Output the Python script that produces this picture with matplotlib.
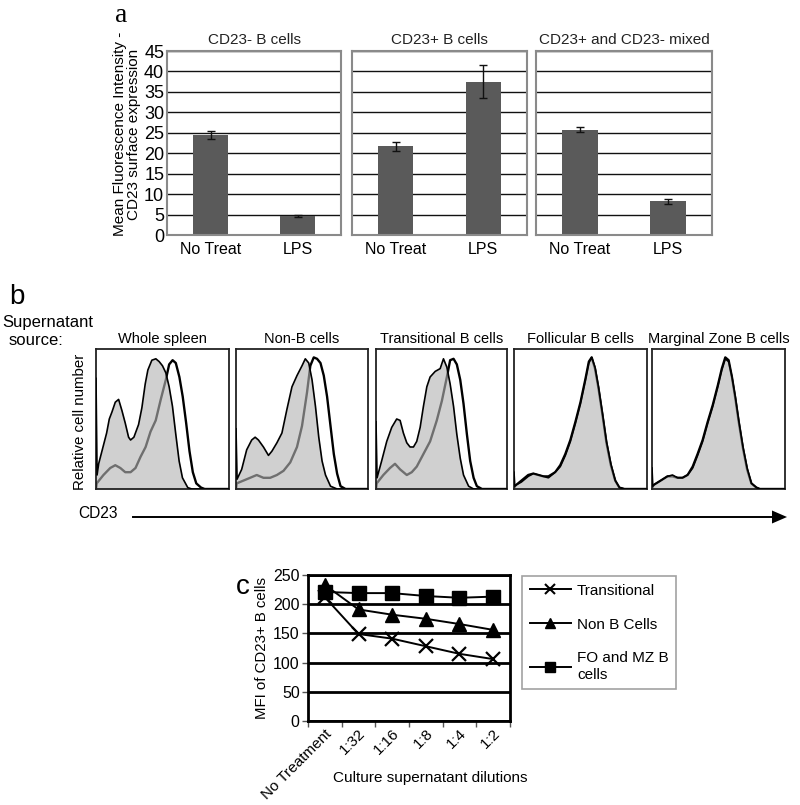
import numpy as np
import matplotlib
matplotlib.use('Agg')
import matplotlib.pyplot as plt
from matplotlib.lines import Line2D
from matplotlib.patches import Polygon

plt.rcParams['font.family'] = ['Liberation Sans', 'DejaVu Sans']

W, H = 800, 805
fig = plt.figure(figsize=(8, 8.05), dpi=100)


def rect(l, t, r, b):
    return [l / W, 1 - b / H, (r - l) / W, (b - t) / H]

# ---------------- panel a data ----------------
a_titles = ['CD23- B cells', 'CD23+ B cells', 'CD23+ and CD23- mixed']
a_cats = ['No Treat', 'LPS']
a_cd23neg = [24.5, 4.6]
a_cd23neg_err = [0.9, 0.3]
a_cd23pos = [21.7, 37.5]
a_cd23pos_err = [1.1, 4.0]
a_mixed = [25.7, 8.2]
a_mixed_err = [0.6, 0.5]
a_yticks = [0, 5, 10, 15, 20, 25, 30, 35, 40, 45]

# ---------------- panel b data (x: fraction of CD23 axis, y: fraction of max) ----------------
b_titles = ['Whole spleen', 'Non-B cells', 'Transitional B cells',
            'Follicular B cells', 'Marginal Zone B cells']

ws_fill_x = [0, 0.008, 0.02, 0.05, 0.08, 0.1, 0.12, 0.145, 0.17, 0.195, 0.22, 0.245, 0.26, 0.285,
             0.32, 0.345, 0.37, 0.39, 0.42, 0.45, 0.475, 0.5, 0.525, 0.55, 0.575, 0.6, 0.625, 0.65,
             0.69, 0.72, 1.0]
ws_fill_y = [0.79, 0.10, 0.18, 0.29, 0.40, 0.50, 0.55, 0.62, 0.64, 0.56, 0.47, 0.37, 0.35, 0.37,
             0.46, 0.58, 0.75, 0.85, 0.92, 0.93, 0.91, 0.88, 0.83, 0.73, 0.59, 0.39, 0.20, 0.08,
             0.01, 0.0, 0.0]
ws_open_x = [0, 0.005, 0.056, 0.107, 0.145, 0.183, 0.22, 0.26, 0.297, 0.335, 0.373, 0.41, 0.449,
             0.487, 0.525, 0.55, 0.576, 0.6, 0.627, 0.652, 0.678, 0.703, 0.728, 0.754, 0.79, 0.817, 1.0]
ws_open_y = [0.0, 0.04, 0.10, 0.15, 0.17, 0.15, 0.12, 0.12, 0.15, 0.23, 0.30, 0.41, 0.49, 0.64,
             0.78, 0.89, 0.92, 0.90, 0.80, 0.66, 0.47, 0.27, 0.12, 0.04, 0.01, 0.0, 0.0]

nb_fill_x = [0, 0.008, 0.043, 0.081, 0.119, 0.145, 0.17, 0.208, 0.246, 0.272, 0.31, 0.348, 0.386,
             0.424, 0.462, 0.5, 0.525, 0.551, 0.576, 0.602, 0.627, 0.652, 0.678, 0.716, 0.766, 1.0]
nb_fill_y = [0.43, 0.07, 0.14, 0.28, 0.35, 0.37, 0.35, 0.30, 0.24, 0.27, 0.33, 0.40, 0.57, 0.73,
             0.81, 0.88, 0.93, 0.90, 0.78, 0.59, 0.37, 0.20, 0.10, 0.02, 0.0, 0.0]
nb_open_x = [0, 0.005, 0.056, 0.107, 0.157, 0.208, 0.259, 0.31, 0.36, 0.411, 0.462, 0.5, 0.538,
             0.563, 0.589, 0.614, 0.64, 0.665, 0.69, 0.716, 0.741, 0.766, 0.792, 0.83, 1.0]
nb_open_y = [0.0, 0.04, 0.06, 0.08, 0.10, 0.08, 0.08, 0.10, 0.13, 0.19, 0.30, 0.45, 0.69, 0.88,
             0.94, 0.93, 0.90, 0.81, 0.66, 0.45, 0.25, 0.11, 0.02, 0.0, 0.0]

tr_fill_x = [0, 0.008, 0.043, 0.082, 0.12, 0.158, 0.184, 0.209, 0.235, 0.26, 0.286, 0.311, 0.337,
             0.362, 0.388, 0.413, 0.452, 0.49, 0.515, 0.541, 0.566, 0.592, 0.617, 0.643, 0.668,
             0.707, 0.745, 1.0]
tr_fill_y = [0.48, 0.08, 0.20, 0.34, 0.44, 0.50, 0.49, 0.40, 0.33, 0.30, 0.30, 0.34, 0.44, 0.59,
             0.73, 0.80, 0.84, 0.86, 0.93, 0.87, 0.75, 0.59, 0.39, 0.22, 0.10, 0.02, 0.0, 0.0]
tr_open_x = [0, 0.005, 0.056, 0.107, 0.145, 0.184, 0.235, 0.273, 0.311, 0.362, 0.413, 0.464, 0.503,
             0.541, 0.566, 0.592, 0.617, 0.643, 0.668, 0.694, 0.719, 0.745, 0.77, 0.809, 1.0]
tr_open_y = [0.0, 0.04, 0.10, 0.15, 0.18, 0.14, 0.10, 0.12, 0.16, 0.25, 0.34, 0.49, 0.63, 0.80,
             0.92, 0.93, 0.89, 0.78, 0.61, 0.39, 0.20, 0.08, 0.02, 0.0, 0.0]

fo_x = [0, 0.006, 0.018, 0.056, 0.107, 0.145, 0.183, 0.221, 0.259, 0.31, 0.348, 0.386, 0.424,
        0.462, 0.5, 0.538, 0.563, 0.584, 0.609, 0.635, 0.665, 0.695, 0.728, 0.761, 0.792, 0.83, 1.0]
fo_fill_y = [0.12, 0.02, 0.03, 0.05, 0.09, 0.11, 0.10, 0.09, 0.08, 0.12, 0.16, 0.24, 0.34, 0.47,
             0.61, 0.78, 0.90, 0.94, 0.87, 0.73, 0.54, 0.34, 0.18, 0.06, 0.01, 0.0, 0.0]
fo_open_y = [0.0, 0.02, 0.03, 0.06, 0.10, 0.11, 0.10, 0.09, 0.09, 0.12, 0.17, 0.25, 0.35, 0.48,
             0.62, 0.79, 0.91, 0.94, 0.86, 0.72, 0.53, 0.33, 0.17, 0.06, 0.01, 0.0, 0.0]

mz_x = [0, 0.006, 0.015, 0.066, 0.116, 0.154, 0.192, 0.23, 0.268, 0.306, 0.343, 0.381, 0.419,
        0.457, 0.495, 0.525, 0.551, 0.576, 0.601, 0.626, 0.652, 0.684, 0.715, 0.747, 0.785, 0.811, 1.0]
mz_fill_y = [0.15, 0.02, 0.03, 0.06, 0.09, 0.10, 0.08, 0.08, 0.10, 0.15, 0.24, 0.34, 0.47, 0.59,
             0.73, 0.85, 0.93, 0.91, 0.80, 0.66, 0.49, 0.30, 0.15, 0.04, 0.01, 0.0, 0.0]
mz_open_y = [0.0, 0.02, 0.03, 0.06, 0.09, 0.09, 0.08, 0.08, 0.10, 0.16, 0.25, 0.35, 0.48, 0.60,
             0.74, 0.86, 0.94, 0.92, 0.80, 0.65, 0.48, 0.29, 0.14, 0.04, 0.01, 0.0, 0.0]

# ---------------- panel c data ----------------
c_cats = ['No Treatment', '1:32', '1:16', '1:8', '1:4', '1:2']
c_transitional = [212, 149, 141, 128, 115, 106]
c_nonb = [233, 191, 182, 175, 166, 156]
c_fomz = [221, 219, 219, 214, 211, 213]
c_yticks = [0, 50, 100, 150, 200, 250]

# ================= panel a =================
a_rects = [(167, 51, 341, 235), (352, 51, 527, 235), (536, 51, 712, 235)]
a_vals = [a_cd23neg, a_cd23pos, a_mixed]
a_errv = [a_cd23neg_err, a_cd23pos_err, a_mixed_err]
xa = np.arange(len(a_cats))
for i, (r, t) in enumerate(zip(a_rects, a_titles)):
    ax = fig.add_axes(rect(*r))
    ax.bar(xa, a_vals[i], width=0.4, color='#5a5a5a', zorder=2)
    ax.errorbar(xa, a_vals[i], yerr=a_errv[i], fmt='none', ecolor='#111111',
                elinewidth=1.0, capsize=3, capthick=1.0, zorder=3)
    ax.set_xlim(-0.5, 1.5)
    ax.set_ylim(0, 45)
    ax.set_yticks(a_yticks)
    ax.yaxis.grid(True, color='#111111', lw=1.0)
    ax.set_axisbelow(True)
    for s in ax.spines.values():
        s.set_color('#8a8a8a')
        s.set_linewidth(1.5)
    ax.set_xticks(xa)
    ax.set_xticklabels(a_cats, fontsize=11.5)
    ax.tick_params(length=0, pad=5)
    ax.tick_params(axis='y', labelsize=13, pad=2)
    if i > 0:
        ax.set_yticklabels([])
    ax.set_title(t, fontsize=11, pad=5, color='#222222')

fig.text(127 / W, 1 - 134 / H, 'Mean Fluorescence Intensity -\nCD23 surface expression',
         rotation=90, ha='center', va='center', fontsize=11, linespacing=1.05)
fig.text(121 / W, 1 - 15 / H, 'a', fontsize=20, ha='center', va='center',
         family=['Liberation Serif', 'DejaVu Serif'])

# ================= panel b =================
b_rects = [(96, 349, 229, 489), (236, 349, 368, 489), (376, 349, 507, 489),
           (514, 349, 647, 489), (652, 349, 785, 489)]
b_fill = [(ws_fill_x, ws_fill_y), (nb_fill_x, nb_fill_y), (tr_fill_x, tr_fill_y),
          (fo_x, fo_fill_y), (mz_x, mz_fill_y)]
b_open = [(ws_open_x, ws_open_y), (nb_open_x, nb_open_y), (tr_open_x, tr_open_y),
          (fo_x, fo_open_y), (mz_x, mz_open_y)]
for r, t, (fx, fy), (ox, oy) in zip(b_rects, b_titles, b_fill, b_open):
    ax = fig.add_axes(rect(*r))
    ax.plot(ox, oy, color='black', lw=1.7, zorder=1)
    ax.fill_between(fx, fy, 0, color='#b4b4b4', alpha=0.62, lw=0, zorder=2)
    ax.plot(fx, fy, color='black', lw=1.2, zorder=3)
    ax.set_xlim(0, 1)
    ax.set_ylim(0, 1)
    ax.set_xticks([])
    ax.set_yticks([])
    for s in ax.spines.values():
        s.set_color('#222222')
        s.set_linewidth(1.3)
    ax.set_title(t, fontsize=10.5, pad=4)

fig.text(17 / W, 1 - 297 / H, 'b', fontsize=20, ha='center', va='center')
fig.text(2 / W, 1 - 322 / H, 'Supernatant', fontsize=12, ha='left', va='center')
fig.text(63 / W, 1 - 340 / H, 'source:', fontsize=12, ha='right', va='center')
fig.text(80 / W, 1 - 422 / H, 'Relative cell number', rotation=90, fontsize=10.8,
         ha='center', va='center')
fig.text(78 / W, 1 - 513 / H, 'CD23', fontsize=11.2, ha='left', va='center')

ov = fig.add_axes([0, 0, 1, 1], zorder=-1)
ov.set_xlim(0, W)
ov.set_ylim(H, 0)
ov.axis('off')
ov.plot([133, 774], [517, 517], color='black', lw=1.4)
ov.add_patch(Polygon([[772, 510.5], [787, 517], [772, 523.5]], closed=True,
                     color='black', lw=0))

# ================= panel c =================
axc = fig.add_axes(rect(308, 575, 510, 721))
xc = np.arange(len(c_cats))
axc.plot(xc, c_fomz, color='black', lw=1.4, marker='s', ms=10, zorder=4)
axc.plot(xc, c_nonb, color='black', lw=1.4, marker='^', ms=9.5, zorder=5)
axc.plot(xc, c_transitional, color='black', lw=1.4, marker='x', ms=10, mew=1.6, zorder=6)
axc.set_xlim(-0.5, len(c_cats) - 0.5)
axc.set_ylim(0, 250)
axc.set_yticks(c_yticks)
axc.yaxis.grid(True, color='black', lw=2.0)
axc.set_axisbelow(True)
for s in axc.spines.values():
    s.set_color('black')
    s.set_linewidth(2.0)
axc.set_xticks(xc)
axc.set_xticklabels(c_cats, rotation=45, ha='right', va='top', rotation_mode='anchor',
                    fontsize=11)
axc.set_xticks(np.arange(len(c_cats) + 1) - 0.5, minor=True)
axc.tick_params(axis='x', which='major', length=0, pad=4)
axc.tick_params(axis='x', which='minor', length=4, width=1, color='#555555')
axc.tick_params(axis='y', length=4, width=1, labelsize=11.5, pad=2, color='#555555')
axc.set_ylabel('MFI of CD23+ B cells', fontsize=10.8, labelpad=3)

fig.text(430 / W, 1 - 778 / H, 'Culture supernatant dilutions', fontsize=11,
         ha='center', va='center')
fig.text(243 / W, 1 - 587 / H, 'c', fontsize=20, ha='center', va='center')

handles = [Line2D([], [], color='black', lw=1.4, marker='x', ms=7, mew=1.5),
           Line2D([], [], color='black', lw=1.4, marker='^', ms=6.5),
           Line2D([], [], color='black', lw=1.4, marker='s', ms=7)]
labels = ['Transitional', 'Non B Cells', 'FO and MZ B\ncells']
leg = fig.legend(handles, labels, loc='upper left', bbox_to_anchor=(522 / W, 1 - 576 / H),
                 frameon=True, fancybox=False, edgecolor='#8a8a8a', fontsize=11,
                 handlelength=2.7, labelspacing=1.3, borderpad=0.5, handletextpad=0.4,
                 borderaxespad=0)
leg.get_frame().set_linewidth(1.2)

fig.savefig('out.png', dpi=100)
